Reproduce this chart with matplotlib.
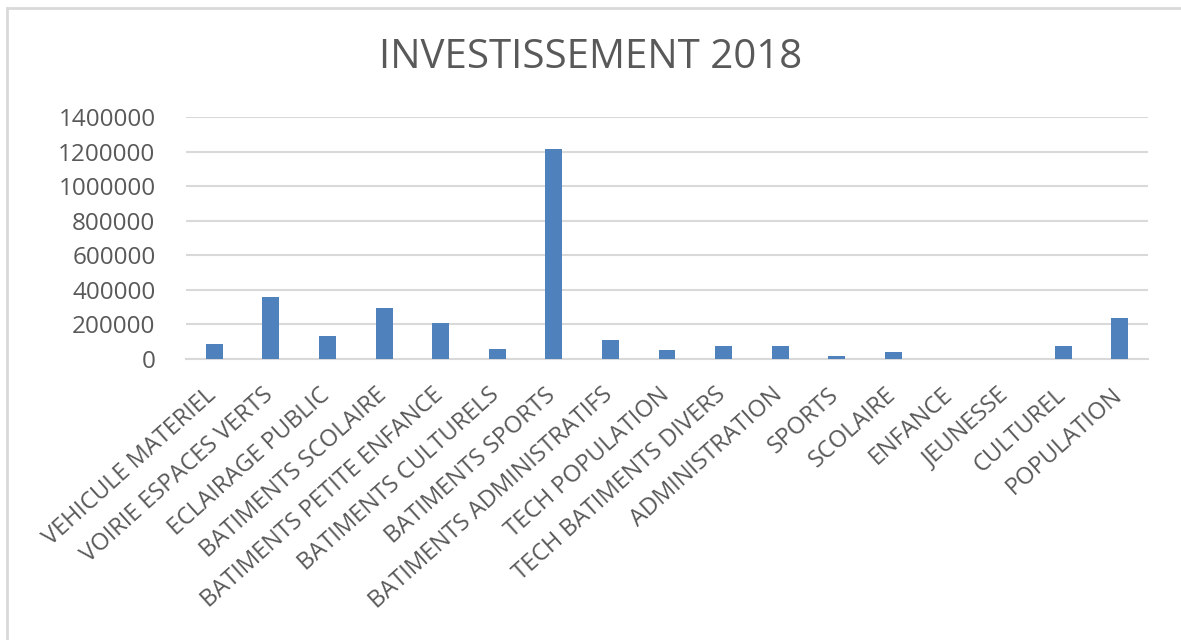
import numpy as np
import matplotlib.pyplot as plt
from matplotlib.patches import Rectangle
from matplotlib.transforms import ScaledTranslation

categories = [
    "VEHICULE MATERIEL", "VOIRIE ESPACES VERTS", "ECLAIRAGE PUBLIC",
    "BATIMENTS SCOLAIRE", "BATIMENTS PETITE ENFANCE", "BATIMENTS CULTURELS",
    "BATIMENTS SPORTS", "BATIMENTS ADMINISTRATIFS", "TECH POPULATION",
    "TECH BATIMENTS DIVERS", "ADMINISTRATION", "SPORTS", "SCOLAIRE",
    "ENFANCE", "JEUNESSE", "CULTUREL", "POPULATION",
]
values = [85000, 361000, 133000, 294000, 207000, 60000, 1217000, 108000,
          50000, 75000, 75000, 17000, 43000, 0, 0, 74000, 238000]
yticks = [0, 200000, 400000, 600000, 800000, 1000000, 1200000, 1400000]

plt.rcParams['font.family'] = ['Open Sans', 'DejaVu Sans']
text_color = '#595959'
grid_color = '#d9d9d9'
bar_color = '#4f81bd'

fig = plt.figure(figsize=(11.81, 6.4), dpi=100)
ax = fig.add_axes([186 / 1181, 1 - 359 / 640, (1148 - 186) / 1181, (359 - 117) / 640])

x = np.arange(len(categories))
ax.bar(x, values, width=0.3, color=bar_color, zorder=3)

ax.set_xlim(-0.5, len(categories) - 0.5)
ax.set_ylim(0, 1400000)
ax.set_yticks(yticks)
ax.set_yticklabels([str(v) for v in yticks])
ax.yaxis.grid(True, color=grid_color, linewidth=1.5, zorder=0)
ax.set_axisbelow(True)
for side in ['top', 'right', 'left']:
    ax.spines[side].set_visible(False)
ax.spines['bottom'].set_color(grid_color)
ax.spines['bottom'].set_linewidth(1.5)
ax.tick_params(axis='y', length=0, pad=22, labelsize=17.5, labelcolor=text_color)
ax.tick_params(axis='x', length=0, pad=0, labelsize=17, labelcolor=text_color)

ax.set_xticks(x)
ax.set_xticklabels(categories, rotation=42, ha='right', va='top',
                   rotation_mode='anchor')
# shift labels so their upper end sits under the bar
offset = ScaledTranslation(-0.09, -0.24, fig.dpi_scale_trans)
for lab in ax.get_xticklabels():
    lab.set_transform(lab.get_transform() + offset)

fig.text(0.5, 1 - 58 / 640, "INVESTISSEMENT 2018", ha='center', va='center',
         fontsize=29, color=text_color)

fig.patches.append(Rectangle((7 / 1181, -0.1), 1.2, 1.1 - 8 / 640,
                             transform=fig.transFigure, fill=False,
                             edgecolor=grid_color, linewidth=2))

fig.savefig("out.png", dpi=100)
